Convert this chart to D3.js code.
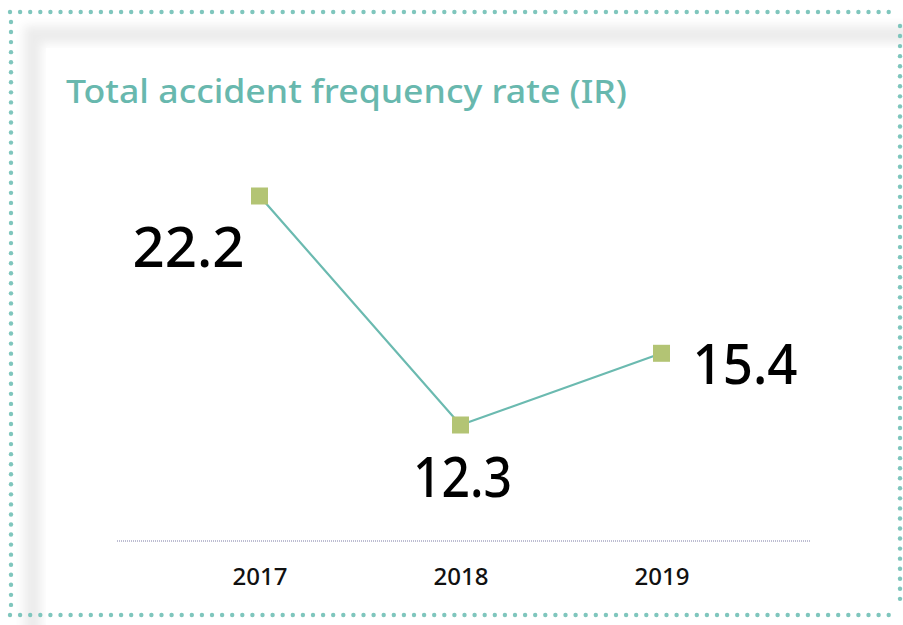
<!DOCTYPE html>
<html><head><meta charset="utf-8">
<script src="https://cdn.jsdelivr.net/npm/d3@7"></script>
<style>body{margin:0;background:#fff}svg{display:block}</style>
</head><body>
<svg id="c" width="903" height="625"></svg>
<script>
const years = ["2017","2018","2019"];
const values = [22.2, 12.3, 15.4];
const title = "Total accident frequency rate (IR)";

const svg = d3.select("#c");
const defs = svg.append("defs");
const f = defs.append("filter").attr("id","blur").attr("x","-10%").attr("y","-10%").attr("width","120%").attr("height","120%");
f.append("feGaussianBlur").attr("stdDeviation",5);

// shadowed card
svg.append("rect").attr("x",24).attr("y",26).attr("width",900).attr("height",620).attr("fill","#ececec").attr("filter","url(#blur)");
svg.append("rect").attr("x",41).attr("y",43).attr("width",870).attr("height",590).attr("fill","#fff").attr("filter","url(#blur)");
svg.append("rect").attr("x",46).attr("y",48).attr("width",860).attr("height",580).attr("fill","#fff");

// dotted border
const dot = "#7fc6bd";
function dotsH(y,x0,x1){ for(let x=x0;x<=x1;x+=10.1) svg.append("circle").attr("cx",x).attr("cy",y).attr("r",2.2).attr("fill",dot); }
function dotsV(x,y0,y1){ for(let y=y0;y<=y1;y+=10.05) svg.append("circle").attr("cx",x).attr("cy",y).attr("r",2.2).attr("fill",dot); }
dotsH(12,10,896);
dotsH(615,10,896);
dotsV(11,22,606);
dotsV(900,26,608);

svg.append("text").attr("x",66).attr("y",103).text(title)
  .attr("font-family","'Noto Sans', sans-serif").attr("font-weight",500).attr("font-size",32)
  .attr("fill","#68b8ae").attr("textLength",561).attr("lengthAdjust","spacingAndGlyphs");

const x = d3.scalePoint().domain(years).range([259.5,661.5]);
const y = d3.scaleLinear().domain([12.3,22.2]).range([425,196]);

// axis baseline
svg.append("line").attr("x1",117).attr("x2",810).attr("y1",541).attr("y2",541)
  .attr("stroke","#a8a8c4").attr("stroke-width",1.3).attr("stroke-dasharray","1,1");

const xa = svg.append("g").attr("transform","translate(0,541)")
  .call(d3.axisBottom(x).tickSize(0).tickPadding(38));
xa.select(".domain").remove();
xa.selectAll("text").attr("font-family","'Noto Sans', sans-serif").attr("font-weight",500)
  .attr("font-size",23).attr("fill","#111").attr("dy","0.25em")
  .attr("textLength",55).attr("lengthAdjust","spacingAndGlyphs");

const data = years.map((yr,i)=>({yr,v:values[i]}));
svg.append("path").datum(data)
  .attr("d", d3.line().x(d=>x(d.yr)).y(d=>y(d.v)))
  .attr("fill","none").attr("stroke","#6bbab0").attr("stroke-width",2.2);

svg.selectAll("rect.m").data(data).enter().append("rect").attr("class","m")
  .attr("x",d=>x(d.yr)-8.5).attr("y",d=>y(d.v)-8.5).attr("width",17).attr("height",17).attr("fill","#b3c474");

const lab = [
  {dx:-71, dy:71, anchor:"middle", w:112},
  {dx:2, dy:72, anchor:"middle", w:99},
  {dx:31, dy:31, anchor:"start", w:105}
];
svg.selectAll("text.v").data(data).enter().append("text").attr("class","v")
  .attr("x",(d,i)=>x(d.yr)+lab[i].dx).attr("y",(d,i)=>y(d.v)+lab[i].dy)
  .attr("text-anchor",(d,i)=>lab[i].anchor)
  .attr("textLength",(d,i)=>lab[i].w).attr("lengthAdjust","spacingAndGlyphs")
  .attr("font-family","'Noto Sans', sans-serif").attr("font-weight",500).attr("font-size",57)
  .attr("fill","#000").text(d=>d.v.toFixed(1));
</script>
</body></html>
